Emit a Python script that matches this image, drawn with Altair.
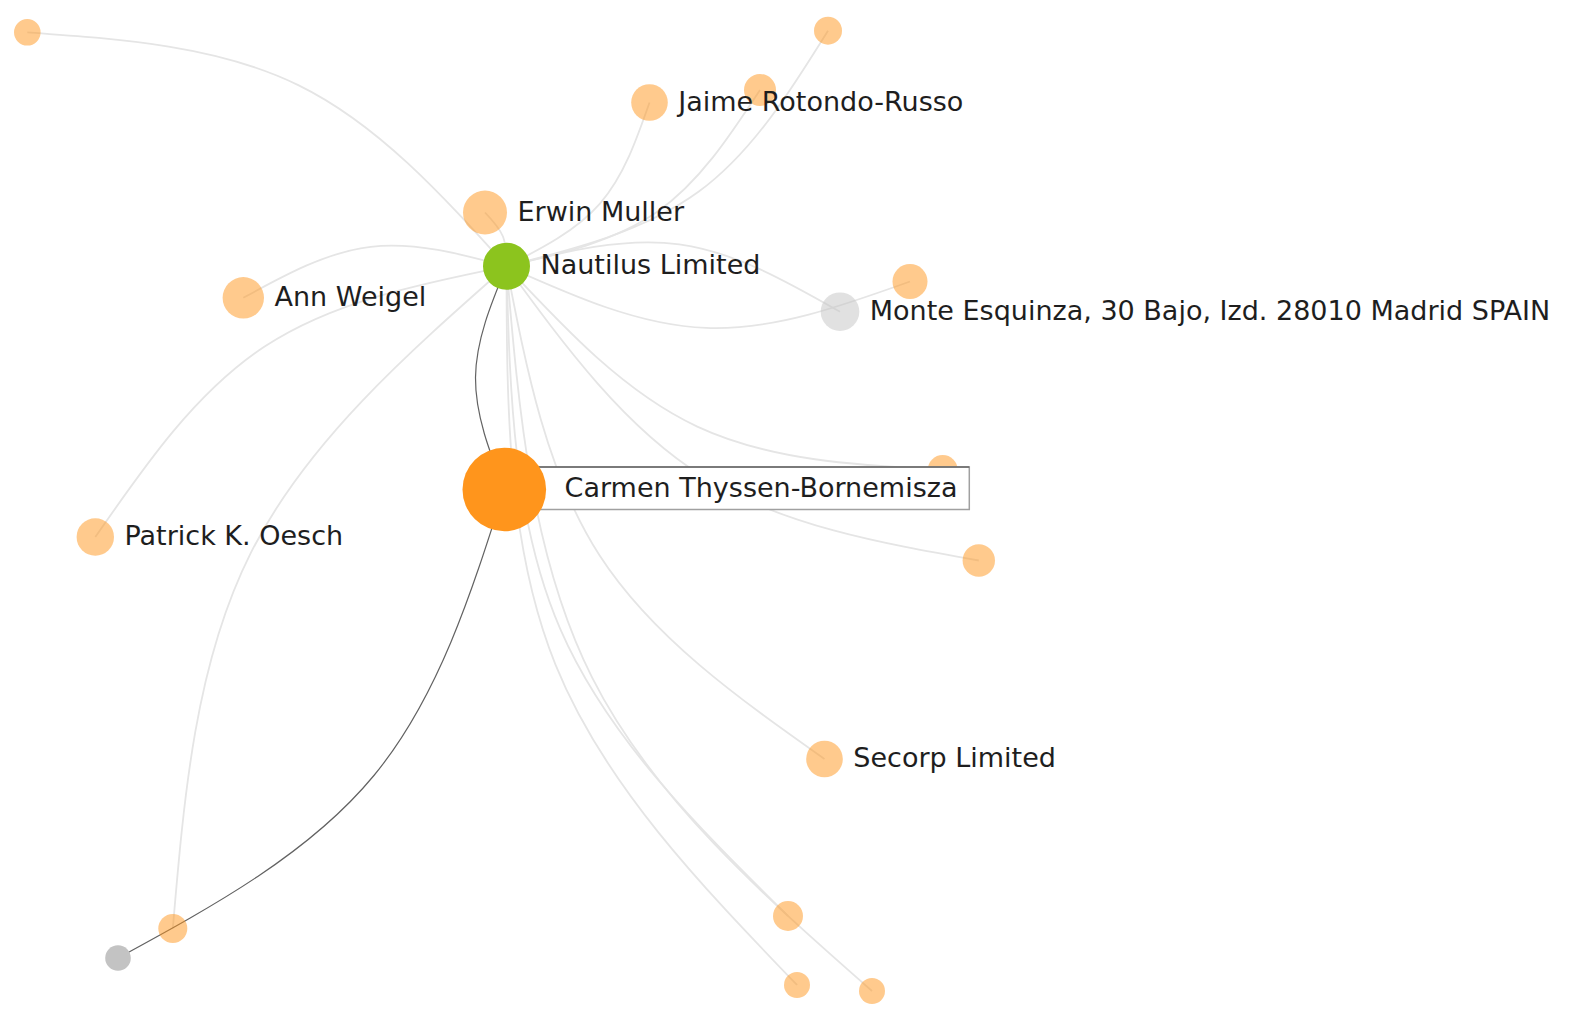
import altair as alt
import pandas as pd

# ---- data (pixel coordinates of the page) ----
node_ids = ["n0", "n1", "n2", "jaime", "erwin", "nautilus", "ann", "n7", "monte",
            "n9", "carmen", "n11", "patrick", "secorp", "n14", "n15", "n16", "n17", "n18"]
node_labels = ["", "", "", "Jaime Rotondo-Russo", "Erwin Muller", "Nautilus Limited",
               "Ann Weigel", "", "Monte Esquinza, 30 Bajo, Izd. 28010 Madrid SPAIN",
               "", "Carmen Thyssen-Bornemisza", "", "Patrick K. Oesch", "Secorp Limited",
               "", "", "", "", ""]
node_x = [27.3, 828.0, 760.0, 649.5, 485.0, 506.5, 243.3, 910.0, 840.0,
          942.7, 504.3, 978.8, 95.3, 824.5, 172.8, 118.0, 788.0, 797.0, 872.0]
node_y = [32.3, 30.7, 90.0, 102.5, 212.5, 266.3, 297.8, 281.5, 311.7,
          470.0, 489.5, 560.5, 537.0, 759.0, 928.5, 958.0, 916.0, 985.0, 991.0]
node_r = [13.3, 14.0, 16.0, 18.3, 22.0, 23.5, 20.7, 17.5, 19.3,
          15.0, 41.8, 16.2, 18.7, 18.3, 14.5, 12.8, 15.0, 13.0, 13.0]
node_group = ["officer", "officer", "officer", "officer", "officer", "entity", "officer",
              "officer", "address", "officer", "officer", "officer", "officer", "officer",
              "officer", "address", "officer", "officer", "officer"]
node_active = [0, 0, 0, 0, 0, 1, 0, 0, 0, 0, 1, 0, 0, 0, 0, 1, 0, 0, 0]

edge_source = ["n0", "n1", "n2", "jaime", "erwin", "ann", "patrick", "n14", "nautilus",
               "n7", "n9", "n11", "secorp", "n18", "n16", "n17", "carmen", "carmen"]
edge_target = ["nautilus", "nautilus", "nautilus", "nautilus", "nautilus", "nautilus",
               "nautilus", "nautilus", "monte", "nautilus", "nautilus", "nautilus",
               "nautilus", "nautilus", "nautilus", "nautilus", "nautilus", "n15"]
edge_dark = [0, 0, 0, 0, 0, 0, 0, 0, 0, 0, 0, 0, 0, 0, 0, 0, 1, 1]

# ---- tables ----
nodes = pd.DataFrame({
    "id": node_ids, "label": node_labels, "x": node_x, "y": node_y,
    "r": node_r, "group": node_group, "active": node_active,
})

pos = {i: (x, y) for i, x, y in zip(node_ids, node_x, node_y)}
K = 1 - 3 ** 0.5 / 2  # arc links drawn with radius equal to chord length
rows = []
for k, (s, t, d) in enumerate(zip(edge_source, edge_target, edge_dark)):
    sx, sy = pos[s]
    tx, ty = pos[t]
    dx, dy = tx - sx, ty - sy
    ax = (sx + tx) / 2 + K * dy
    ay = (sy + ty) / 2 - K * dx
    for j, (px, py) in enumerate([(sx, sy), (ax, ay), (tx, ty)]):
        rows.append({"edge": k, "seq": j, "x": px, "y": py, "dark": d})
links = pd.DataFrame(rows)

W, H = 1578, 1000
xs = alt.Scale(domain=[8, 8 + W], nice=False, zero=False)
ys = alt.Scale(domain=[8, 8 + H], nice=False, zero=False, reverse=True)
FONT = "DejaVu Sans"
FS = 27

base_links = alt.Chart(links).encode(
    x=alt.X("x:Q", scale=xs, axis=None),
    y=alt.Y("y:Q", scale=ys, axis=None),
    detail="edge:N",
    order="seq:Q",
)
light = base_links.transform_filter("datum.dark == 0").mark_line(
    interpolate="natural", color="#e5e5e5", strokeWidth=1.8)
dark = base_links.transform_filter("datum.dark == 1").mark_line(
    interpolate="natural", color="#626262", strokeWidth=1.2)

node_base = alt.Chart(nodes).transform_calculate(
    sz="pow(2 * datum.r, 2)",
    op="datum.active == 1 ? 1 : 0.5",
)
color = alt.Color("group:N", legend=None,
                  scale=alt.Scale(domain=["officer", "entity", "address"],
                                  range=["#ff951c", "#8cc41e", "#c3c3c3"]))
node_enc = dict(
    x=alt.X("x:Q", scale=xs, axis=None),
    y=alt.Y("y:Q", scale=ys, axis=None),
    size=alt.Size("sz:Q", scale=None),
    opacity=alt.Opacity("op:Q", scale=None),
    color=color,
)
circles = node_base.transform_filter("datum.id != 'carmen'").mark_circle(strokeWidth=0).encode(**node_enc)
carmen_circle = node_base.transform_filter("datum.id == 'carmen'").mark_circle(strokeWidth=0).encode(**node_enc)

box = alt.Chart(nodes).transform_filter("datum.id == 'carmen'").transform_calculate(
    bx1="datum.x + 20", bx2="datum.x + 465", by1="datum.y - 22.5", by2="datum.y + 20",
).mark_rect(fill="white", stroke="#a0a0a0", strokeWidth=1.5).encode(
    x=alt.X("bx1:Q", scale=xs, axis=None), x2="bx2:Q",
    y=alt.Y("by1:Q", scale=ys, axis=None), y2="by2:Q",
)
box_top = alt.Chart(nodes).transform_filter("datum.id == 'carmen'").transform_calculate(
    bx1="datum.x + 20", bx2="datum.x + 465", by1="datum.y - 22.5",
).mark_rule(color="#666666", strokeWidth=1.5).encode(
    x=alt.X("bx1:Q", scale=xs, axis=None), x2="bx2:Q",
    y=alt.Y("by1:Q", scale=ys, axis=None),
)

labels = alt.Chart(nodes).transform_filter(
    "datum.label != '' && datum.id != 'carmen'"
).transform_calculate(lx="datum.x + datum.r + 10.5").mark_text(
    align="left", baseline="alphabetic", dy=8, font=FONT, fontSize=FS, color="#1e1e1e"
).encode(
    x=alt.X("lx:Q", scale=xs, axis=None),
    y=alt.Y("y:Q", scale=ys, axis=None),
    text="label:N",
)
carmen_label = alt.Chart(nodes).transform_filter("datum.id == 'carmen'").transform_calculate(
    lx="datum.x + datum.r + 18.5"
).mark_text(
    align="left", baseline="alphabetic", dy=7, font=FONT, fontSize=FS, color="#1e1e1e"
).encode(
    x=alt.X("lx:Q", scale=xs, axis=None),
    y=alt.Y("y:Q", scale=ys, axis=None),
    text="label:N",
)

chart = alt.layer(
    light, dark, circles, box, box_top, carmen_circle, labels, carmen_label
).properties(
    width=W, height=H, padding=0,
    autosize=alt.AutoSizeParams(type="none"),
    background="white",
).configure_view(stroke=None)

chart.save("out.html", embed_options={"renderer": "svg", "actions": False})
